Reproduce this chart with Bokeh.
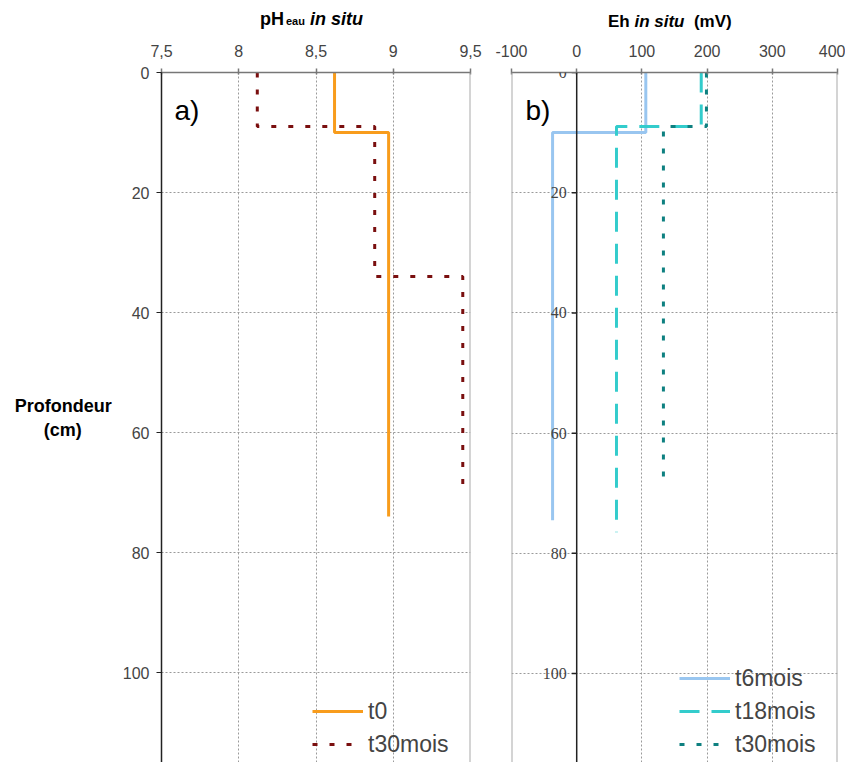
import math
from bokeh.plotting import figure
from bokeh.layouts import row, column
from bokeh.models import (Range1d, FixedTicker, Label, LabelSet, Legend, LegendItem,
                          Span, ColumnDataSource, Div)
from bokeh.embed import file_html
from bokeh.resources import INLINE

FONT = "Liberation Sans"

# ---------------- data ----------------
ph_ticks = [7.5, 8, 8.5, 9, 9.5]
ph_tick_labels = ["7,5", "8", "8,5", "9", "9,5"]
eh_ticks = [-100, 0, 100, 200, 300, 400]
eh_tick_labels = ["-100", "0", "100", "200", "300", "400"]
depth_ticks = [0, 20, 40, 60, 80, 100]
depth_tick_labels = ["0", "20", "40", "60", "80", "100"]
eh_axis_at = 0

ph_t0_depth = [0, 10, 10, 74]
ph_t0 = [8.62, 8.62, 8.97, 8.97]
ph_t30_depth = [0, 9, 9, 34, 34, 69]
ph_t30 = [8.12, 8.12, 8.88, 8.88, 9.45, 9.45]

eh_t6_depth = [0, 10, 10, 74.5]
eh_t6 = [106, 106, -37, -37]
eh_t18_depth = [0, 9, 9, 76.5]
eh_t18 = [191, 191, 61, 61]
eh_t30_depth = [0, 9, 9, 68.5]
eh_t30 = [199, 199, 133, 133]

# ---------------- styles ----------------
GRID_COLOR = "#9a9a9a"
TICK_LABEL_COLOR = "#444444"
TITLE_H = 30
NB = "\u00a0"


def style_top_axis(ax, ticks, labels):
    ax.ticker = FixedTicker(ticks=ticks)
    ax.major_label_overrides = {t: l for t, l in zip(ticks, labels)}
    ax.axis_line_color = "#777777"
    ax.axis_line_width = 1.5
    ax.major_tick_line_color = "#777777"
    ax.major_tick_line_width = 1.5
    ax.major_tick_in = 2
    ax.major_tick_out = 4
    ax.minor_tick_line_color = None
    ax.major_label_text_font = FONT
    ax.major_label_text_font_size = "16px"
    ax.major_label_text_color = TICK_LABEL_COLOR
    ax.major_label_standoff = 12


def style_grid(p, xticks):
    p.xgrid.ticker = FixedTicker(ticks=xticks)
    p.ygrid.ticker = FixedTicker(ticks=depth_ticks)
    for g in (p.xgrid, p.ygrid):
        g.grid_line_color = GRID_COLOR
        g.grid_line_dash = "2 2"
        g.grid_line_width = 1


def lab(p, text, x, y, size, style="normal", align="left", color="black"):
    p.add_layout(Label(x=x, y=y, x_units="screen", y_units="screen", text=text,
                       text_font=FONT, text_font_size=size, text_font_style=style,
                       text_align=align, text_baseline="alphabetic", text_color=color))


# ---------------- panel a ----------------
pa = figure(width=490, height=762 - TITLE_H, x_range=Range1d(ph_ticks[0], ph_ticks[-1]),
            y_range=Range1d(115, 0), output_backend="svg", toolbar_location=None,
            x_axis_location="above", min_border_left=161, min_border_right=20,
            min_border_top=70 - TITLE_H, min_border_bottom=0)
pa.outline_line_color = None
style_top_axis(pa.xaxis[0], ph_ticks, ph_tick_labels)
ya = pa.yaxis[0]
ya.ticker = FixedTicker(ticks=depth_ticks)
ya.major_label_overrides = {t: l for t, l in zip(depth_ticks, depth_tick_labels)}
ya.axis_line_color = "#222222"
ya.axis_line_width = 1.5
ya.major_tick_line_color = "#222222"
ya.major_tick_in = 0
ya.major_tick_out = 5
ya.minor_tick_line_color = None
ya.major_label_text_font = FONT
ya.major_label_text_font_size = "16px"
ya.major_label_text_color = TICK_LABEL_COLOR
ya.major_label_standoff = 7
ya.axis_label = "Profondeur\n(cm)" + NB * 6
ya.axis_label_text_font = FONT
ya.axis_label_text_font_size = "18px"
ya.axis_label_text_font_style = "bold"
ya.axis_label_text_color = "black"
ya.axis_label_standoff = 8
if hasattr(ya, "axis_label_orientation"):
    ya.axis_label_orientation = "horizontal"
style_grid(pa, ph_ticks)
pa.add_layout(Span(location=ph_ticks[-1], dimension="height", line_color="#aaaaaa", line_width=2))

ra0 = pa.line(ph_t0, ph_t0_depth, line_color="#F89C1C", line_width=3)
ra1 = pa.line(ph_t30, ph_t30_depth, line_color="#7A0F0F", line_width=3, line_dash="5 12")

pa.add_layout(Legend(items=[LegendItem(label="t0", renderers=[ra0]),
                            LegendItem(label="t30mois", renderers=[ra1])],
                     location=(151, 3), glyph_width=51, glyph_height=30, label_height=30,
                     spacing=3, padding=0, margin=0, label_standoff=5,
                     label_text_font=FONT, label_text_font_size="23px",
                     background_fill_alpha=0, border_line_alpha=0))
lab(pa, "a)", 13, 652, "28px")

# ---------------- panel b ----------------
pb = figure(width=355, height=762 - TITLE_H, x_range=Range1d(eh_ticks[0], eh_ticks[-1]),
            y_range=Range1d(114.8, 0), output_backend="svg", toolbar_location=None,
            x_axis_location="above", y_axis_location=None, min_border_left=21,
            min_border_right=8, min_border_top=72 - TITLE_H, min_border_bottom=0)
pb.outline_line_color = None
style_top_axis(pb.xaxis[0], eh_ticks, eh_tick_labels)
style_grid(pb, eh_ticks)
pb.add_layout(Span(location=eh_ticks[0], dimension="height", line_color="#aaaaaa", line_width=2))
pb.add_layout(Span(location=eh_ticks[-1], dimension="height", line_color="#aaaaaa", line_width=2))
pb.add_layout(Span(location=eh_axis_at, dimension="height", line_color="#222222", line_width=1.5))
pb.ray(x=[eh_axis_at] * len(depth_ticks), y=depth_ticks, length=5, length_units="screen",
       angle=math.pi, line_color="#222222", line_width=1.5)
pb.add_layout(LabelSet(source=ColumnDataSource(dict(x=[eh_axis_at] * len(depth_ticks),
                                                     y=depth_ticks, t=depth_tick_labels)),
                       x="x", y="y", text="t", x_offset=-10, text_align="right",
                       text_baseline="middle", text_font=FONT, text_font_size="16px",
                       text_color=TICK_LABEL_COLOR))

rb0 = pb.line(eh_t6, eh_t6_depth, line_color="#99C6F0", line_width=3)
rb1 = pb.line(eh_t18, eh_t18_depth, line_color="#33CCCC", line_width=3, line_dash="20 12")
rb2 = pb.line(eh_t30, eh_t30_depth, line_color="#0E8080", line_width=3, line_dash="5 12")

pb.add_layout(Legend(items=[LegendItem(label="t6mois", renderers=[rb0]),
                            LegendItem(label="t18mois", renderers=[rb1]),
                            LegendItem(label="t30mois", renderers=[rb2])],
                     location=(168, 3), glyph_width=51, glyph_height=30, label_height=30,
                     spacing=3, padding=0, margin=0, label_standoff=5,
                     label_text_font=FONT, label_text_font_size="23px",
                     background_fill_alpha=0, border_line_alpha=0))
lab(pb, "b)", 14, 652, "28px")

# ---------------- titles (HTML, mixed styles) ----------------
title_a = Div(width=490, height=TITLE_H, margin=0, text=(
    "<div style=\"position:relative;width:490px;height:30px;font-family:'Liberation Sans';"
    "font-weight:bold;color:black\">"
    "<span style=\"position:absolute;left:260px;top:10px;font-size:18px;line-height:18px;"
    "white-space:nowrap\">pH<span style=\"font-size:11px;margin-left:2px\">eau</span>"
    " <i>in situ</i></span></div>"))
title_b = Div(width=355, height=TITLE_H, margin=0, text=(
    "<div style=\"position:relative;width:355px;height:30px;font-family:'Liberation Sans';"
    "font-weight:bold;color:black\">"
    "<span style=\"position:absolute;left:118px;top:13px;font-size:17px;line-height:17px;"
    "white-space:nowrap\">Eh <i>in situ</i>&nbsp; (mV)</span></div>"))

layout = column(row(title_a, title_b), row(pa, pb))
open("out.html", "w").write(file_html(layout, INLINE))
